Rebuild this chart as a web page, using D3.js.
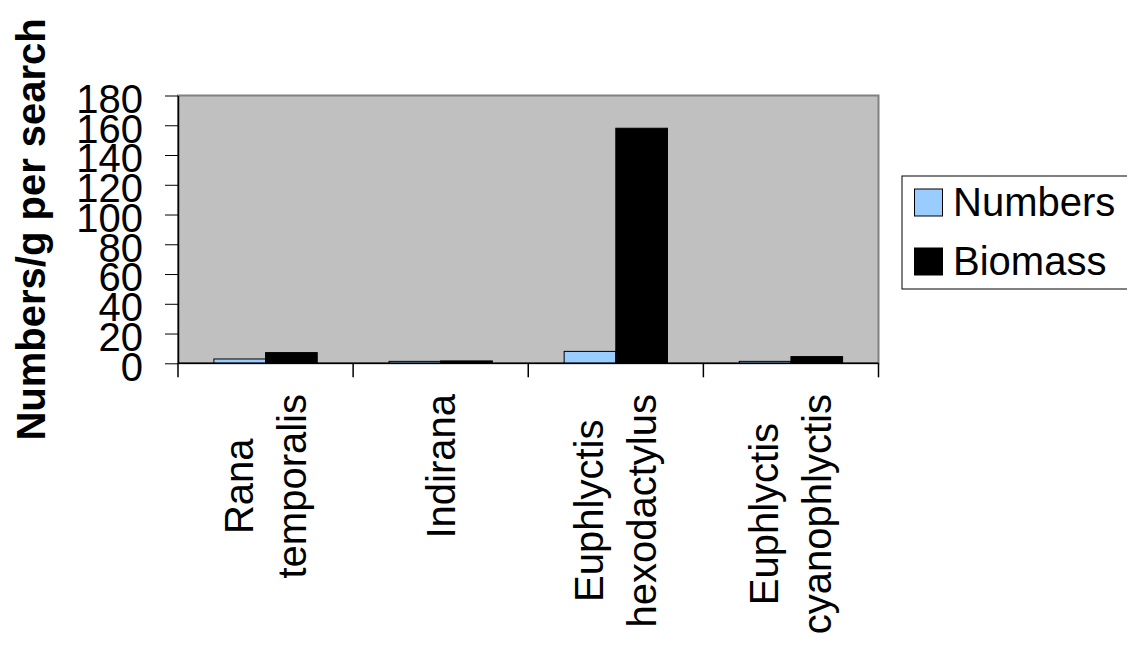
<!DOCTYPE html>
<html>
<head>
<meta charset="utf-8">
<script src="https://cdn.jsdelivr.net/npm/d3@7"></script>
<style>
  html, body { margin: 0; padding: 0; background: #fff; }
  svg { display: block; font-family: "Liberation Sans", Arial, sans-serif; }
</style>
</head>
<body>
<svg id="chart" width="1127" height="653"></svg>
<script>
// Frog survey: numbers and biomass per search, by species
const categories = [
  ["Rana", "temporalis"],
  ["Indirana"],
  ["Euphlyctis", "hexodactylus"],
  ["Euphlyctis", "cyanophlyctis"]
];
const seriesNames = ["Numbers", "Biomass"];
const numbers = [2.9, 1.3, 8, 1.3];
const biomass = [7.2, 1.6, 158, 4.5];
const yTicks = [0, 20, 40, 60, 80, 100, 120, 140, 160, 180];
const colors = ["#99ccff", "#000000"];

const svg = d3.select("#chart");
const plot = { left: 178, right: 878.5, top: 95.5, bottom: 363.3 };
const fontSize = 40;

const catKeys = categories.map(c => c.join(" "));
const x0 = d3.scaleBand()
  .domain(catKeys)
  .range([plot.left, plot.right])
  .paddingInner(0.41)
  .paddingOuter(0.205);
const x1 = d3.scaleBand()
  .domain(seriesNames)
  .range([0, x0.bandwidth()]);
const y = d3.scaleLinear().domain([0, 180]).range([plot.bottom, plot.top]);

// plot area background
svg.append("rect")
  .attr("x", plot.left).attr("y", plot.top)
  .attr("width", plot.right - plot.left).attr("height", plot.bottom - plot.top)
  .attr("fill", "#c0c0c0")
  .attr("stroke", "#808080").attr("stroke-width", 2);

// bars
const rows = catKeys.map((k, i) => ({ key: k, values: [numbers[i], biomass[i]] }));
const groups = svg.append("g").selectAll("g").data(rows).join("g")
  .attr("transform", d => `translate(${x0(d.key)},0)`);
groups.selectAll("rect")
  .data(d => d.values.map((v, j) => ({ name: seriesNames[j], value: v, color: colors[j] })))
  .join("rect")
  .attr("x", d => x1(d.name))
  .attr("width", x1.bandwidth())
  .attr("y", d => y(d.value))
  .attr("height", d => y(0) - y(d.value))
  .attr("fill", d => d.color)
  .attr("stroke", "#000").attr("stroke-width", 1);

// y axis
const yAxis = svg.append("g")
  .attr("transform", `translate(${plot.left},0)`)
  .call(d3.axisLeft(y).tickValues(yTicks).tickSize(13).tickPadding(22).tickSizeOuter(0));
yAxis.select(".domain").attr("stroke", "#000").attr("stroke-width", 1.5);
yAxis.selectAll(".tick line").attr("stroke", "#000").attr("stroke-width", 1);
yAxis.selectAll(".tick text")
  .attr("font-size", fontSize)
  .attr("font-family", "Liberation Sans, Arial, sans-serif")
  .attr("fill", "#000")
  .attr("dy", "0.42em");

// x axis line and category boundary ticks
const boundaries = d3.range(catKeys.length + 1).map(i => plot.left + i * x0.step());
svg.append("line")
  .attr("x1", plot.left).attr("x2", plot.right)
  .attr("y1", plot.bottom).attr("y2", plot.bottom)
  .attr("stroke", "#000").attr("stroke-width", 1.5);
svg.append("g").selectAll("line").data(boundaries).join("line")
  .attr("x1", d => d).attr("x2", d => d)
  .attr("y1", plot.bottom).attr("y2", plot.bottom + 14)
  .attr("stroke", "#000").attr("stroke-width", 1.5);

// rotated category labels
const labelTop = 394;
const lineGap = 53;
categories.forEach((lines, i) => {
  const cx = x0(catKeys[i]) + x0.bandwidth() / 2;
  const g = svg.append("g");
  const texts = lines.map((t, j) => g.append("text")
    .attr("x", 0)
    .attr("y", 14 + (j - (lines.length - 1) / 2) * lineGap)
    .attr("text-anchor", "middle")
    .attr("font-size", fontSize)
    .attr("fill", "#000")
    .text(t));
  const maxLen = d3.max(texts, t => t.node().getComputedTextLength());
  g.attr("transform", `translate(${cx},${labelTop + maxLen / 2}) rotate(-90)`);
});

// y axis title
svg.append("text")
  .attr("transform", `translate(45,${(plot.top + plot.bottom) / 2}) rotate(-90)`)
  .attr("text-anchor", "middle")
  .attr("font-size", fontSize)
  .attr("font-weight", "bold")
  .attr("fill", "#000")
  .text("Numbers/g per search");

// legend
const legend = svg.append("g");
legend.append("rect")
  .attr("x", 902).attr("y", 176)
  .attr("width", 240).attr("height", 113)
  .attr("fill", "#fff").attr("stroke", "#000").attr("stroke-width", 1);
seriesNames.forEach((name, i) => {
  const yy = 189 + i * 59;
  legend.append("rect")
    .attr("x", 914.5).attr("y", yy)
    .attr("width", 28).attr("height", 27)
    .attr("fill", colors[i]).attr("stroke", "#000").attr("stroke-width", 1);
  legend.append("text")
    .attr("x", 953).attr("y", yy + 27)
    .attr("font-size", fontSize)
    .attr("fill", "#000")
    .text(name);
});
</script>
</body>
</html>
